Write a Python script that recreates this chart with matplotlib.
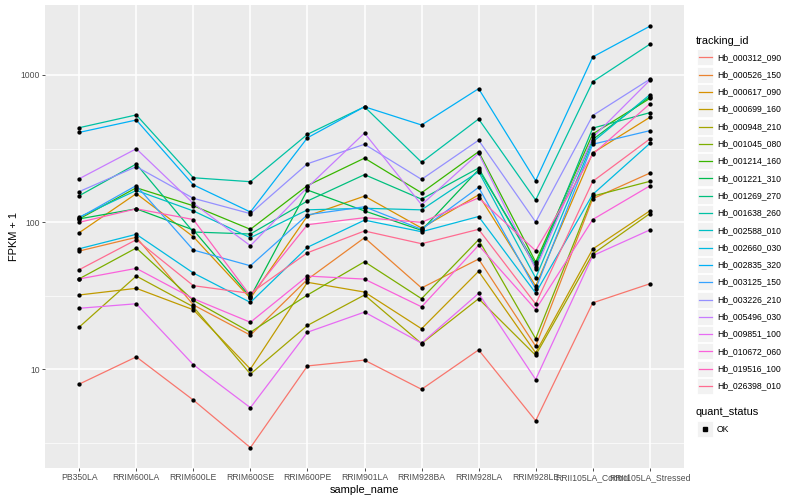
import matplotlib.pyplot as plt
import matplotlib.patches as mpatches
import numpy as np

plt.rcParams['font.family'] = ['Liberation Sans', 'DejaVu Sans']

# sample names on the x axis
samples = ['PB350LA', 'RRIM600LA', 'RRIM600LE', 'RRIM600SE', 'RRIM600PE', 'RRIM901LA',
           'RRIM928BA', 'RRIM928LA', 'RRIM928LE', 'RRII105LA_Control', 'RRII105LA_Stressed']

tracking_ids = ['Hb_000312_090', 'Hb_000526_150', 'Hb_000617_090', 'Hb_000699_160',
                'Hb_000948_210', 'Hb_001045_080', 'Hb_001214_160', 'Hb_001221_310',
                'Hb_001269_270', 'Hb_001638_260', 'Hb_002588_010', 'Hb_002660_030',
                'Hb_002835_320', 'Hb_003125_150', 'Hb_003226_210', 'Hb_005496_030',
                'Hb_009851_100', 'Hb_010672_060', 'Hb_019516_100', 'Hb_026398_010']

# FPKM + 1 for each gene
hb_000312_090 = [7.9, 12.1, 6.15, 2.92, 10.5, 11.5, 7.28, 13.5, 4.45, 28.2, 38.0]
hb_000526_150 = [63.5, 78.7, 27.3, 17.0, 40.7, 78.2, 35.6, 56.0, 14.3, 144, 215]
hb_000617_090 = [84.6, 156, 79.4, 30.3, 110, 150, 91, 153, 36.7, 295, 515]
hb_000699_160 = [31.9, 35.4, 25.3, 10.0, 38.9, 33.4, 18.8, 46.2, 12.9, 65.5, 119]
hb_000948_210 = [19.3, 42.9, 26.5, 9.25, 19.8, 31.9, 14.9, 30.1, 12.4, 60.6, 114]
hb_001045_080 = [41.1, 66.6, 29.3, 17.8, 31.9, 53.7, 30.1, 75.8, 16.1, 150, 189]
hb_001214_160 = [105, 171, 129, 89.2, 177, 272, 158, 301, 53.5, 397, 692]
hb_001221_310 = [105, 123, 88.3, 30.9, 165, 119, 87.8, 227, 51.8, 364, 712]
hb_001269_270 = [151, 248, 85.5, 82.9, 139, 210, 143, 233, 49.4, 435, 554]
hb_001638_260 = [438, 535, 200, 188, 395, 608, 255, 502, 141, 900, 1618]
hb_002588_010 = [108, 164, 119, 78.2, 121, 124, 121, 220, 41.6, 350, 734]
hb_002660_030 = [65.8, 82.5, 45.0, 28.4, 67.3, 103, 85.9, 109, 32.9, 154, 342]
hb_002835_320 = [407, 494, 179, 117, 374, 608, 457, 807, 191, 1326, 2145]
hb_003125_150 = [107, 177, 64.5, 50.4, 112, 127, 89.2, 172, 35.0, 338, 418]
hb_003226_210 = [161, 238, 145, 114, 249, 338, 195, 360, 100, 530, 935]
hb_005496_030 = [197, 315, 134, 69.0, 172, 403, 131, 293, 47.9, 376, 920]
hb_009851_100 = [25.9, 27.8, 10.7, 5.46, 17.8, 24.4, 15.0, 32.7, 8.49, 59.0, 88.3]
hb_010672_060 = [41.0, 48.4, 30.1, 20.8, 42.9, 40.9, 26.5, 69.4, 25.4, 104, 176]
hb_019516_100 = [99.5, 123, 104, 31.5, 95.9, 107, 99.5, 146, 63.8, 289, 635]
hb_026398_010 = [47.4, 75.8, 36.9, 32.7, 61.8, 86.9, 71.2, 89.2, 27.7, 189, 367]

series = [hb_000312_090, hb_000526_150, hb_000617_090, hb_000699_160, hb_000948_210,
          hb_001045_080, hb_001214_160, hb_001221_310, hb_001269_270, hb_001638_260,
          hb_002588_010, hb_002660_030, hb_002835_320, hb_003125_150, hb_003226_210,
          hb_005496_030, hb_009851_100, hb_010672_060, hb_019516_100, hb_026398_010]

# ggplot hue palette, 20 levels
colors = ['#F8766D', '#EA8331', '#D89000', '#C09B00', '#A3A500', '#7CAE00', '#39B600',
          '#00BB4E', '#00BF7D', '#00C1A3', '#00BFC4', '#00BAE0', '#00B0F6', '#35A2FF',
          '#9590FF', '#C77CFF', '#E76BF3', '#FA62DB', '#FF62BC', '#FF6C91']

fig = plt.figure(figsize=(8, 5), dpi=100)
ax = fig.add_axes([45/800, 32/500, 639/800, 463/500])
ax.set_facecolor('#EBEBEB')

x = np.arange(len(samples))
for vals, col in zip(series, colors):
    ax.plot(x, vals, color=col, lw=0.9, zorder=3)
for vals in series:
    ax.plot(x, vals, 'o', color='black', ms=3.1, zorder=4, mec='none')

ax.set_yscale('log')
ax.set_ylim(10**0.327, 10**3.476)
ax.set_xlim(-0.6, len(samples) - 0.4)
ax.set_yticks([10, 100, 1000])
ax.set_yticklabels(['10', '100', '1000'])
ax.set_yticks([10**0.5, 10**1.5, 10**2.5], minor=True)
ax.yaxis.set_minor_formatter(plt.NullFormatter())
ax.set_xticks(x)
ax.set_xticklabels(samples)

ax.grid(True, which='major', color='white', lw=1.1, zorder=1)
ax.grid(True, which='minor', axis='y', color='white', lw=0.5, zorder=1)
ax.set_axisbelow(True)
for s in ax.spines.values():
    s.set_visible(False)
ax.tick_params(which='major', length=2.0, width=0.6, color='#333333',
               labelsize=6.2, labelcolor='#4D4D4D', pad=1.6)
ax.tick_params(which='minor', length=0)

ax.set_xlabel('sample_name', fontsize=7.9, labelpad=2)
ax.set_ylabel('FPKM + 1', fontsize=7.9, labelpad=1.5)

# legend drawn in pixel coordinates
lax = fig.add_axes([0, 0, 1, 1], facecolor='none')
lax.set_xlim(0, 800)
lax.set_ylim(500, 0)
lax.axis('off')

lax.text(696, 40.5, 'tracking_id', fontsize=7.9, va='center', ha='left')
for i, (tid, col) in enumerate(zip(tracking_ids, colors)):
    yc = 57.3 + i * 17.3
    lax.add_patch(mpatches.Rectangle((697, yc - 8), 16, 16, facecolor='#F2F2F2',
                                     edgecolor='white', lw=0.6))
    lax.plot([698.5, 711.5], [yc, yc], color=col, lw=0.9)
    lax.text(717, yc, tid, fontsize=6.2, va='center', ha='left')

lax.text(696, 412, 'quant_status', fontsize=7.9, va='center', ha='left')
lax.add_patch(mpatches.Rectangle((697, 421), 16, 16, facecolor='#F2F2F2',
                                 edgecolor='white', lw=0.6))
lax.plot([705], [429], 's', color='black', ms=2.2)
lax.text(717, 429, 'OK', fontsize=6.2, va='center', ha='left')

fig.savefig('out.png', dpi=100, facecolor='white')
